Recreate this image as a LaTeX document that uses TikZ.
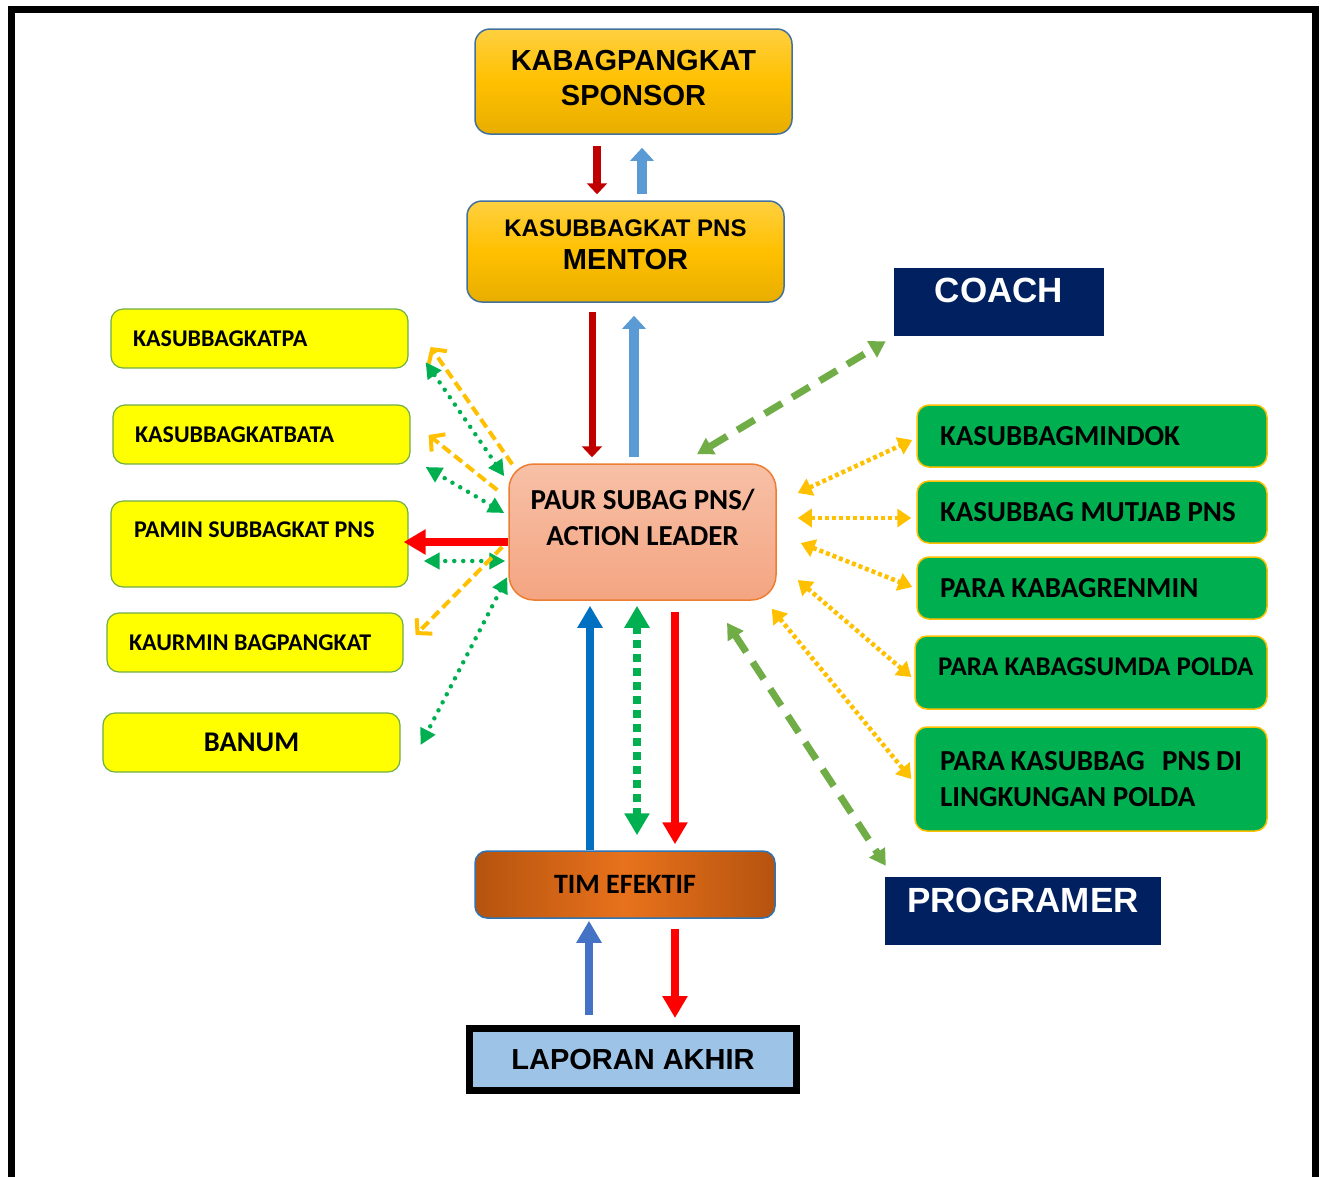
\documentclass[tikz,border=0pt]{standalone}
\usepackage{fontspec}
\setmainfont{Carlito}
\newfontfamily\arialfont{Liberation Sans}
\usetikzlibrary{arrows.meta}

\definecolor{darkred}{HTML}{C00000}
\definecolor{skyblue}{HTML}{5B9BD5}
\definecolor{brightred}{HTML}{FF0000}
\definecolor{midblue}{HTML}{0070C0}
\definecolor{steelblue}{HTML}{4472C4}
\definecolor{pgreen}{HTML}{00B050}
\definecolor{lgreen}{HTML}{70AD47}
\definecolor{gold}{HTML}{FFC000}
\definecolor{navy}{HTML}{002060}
\definecolor{yfill}{HTML}{FFFF00}
\definecolor{lapblue}{HTML}{9DC3E6}
\definecolor{goldtop}{HTML}{FFD040}
\definecolor{goldbot}{HTML}{E8AE00}
\definecolor{goldline}{HTML}{41719C}
\definecolor{paurtop}{HTML}{F7C0A6}
\definecolor{paurbot}{HTML}{F4A582}
\definecolor{paurline}{HTML}{ED7D31}
\definecolor{timmid}{HTML}{E8721C}
\definecolor{timdark}{HTML}{B5530F}
\definecolor{timline}{HTML}{2E75B6}

\newcommand\lowstrut[1]{\rule[-#1]{0pt}{#1}}

\tikzset{
  basebox/.style={draw, inner ysep=2pt, text=black},
  goldbox/.style={basebox, draw=goldline, line width=1.5pt, rounded corners=15pt,
    top color=goldtop, bottom color=goldbot, middle color=gold, align=center, minimum width=317pt},
  paurbox/.style={basebox, draw=paurline, line width=1.5pt, rounded corners=25pt,
    top color=paurtop, bottom color=paurbot, align=center, minimum width=267pt, minimum height=136pt,
    font=\bfseries\fontsize{29}{36}\selectfont},
  yellowbox/.style={basebox, draw=lgreen, fill=yfill, line width=1.2pt, rounded corners=12pt,
    minimum width=297pt, minimum height=59pt, inner xsep=22pt, text width=253pt, align=flush left,
    font=\bfseries\fontsize{24}{29}\selectfont},
  greenbox/.style={basebox, draw=gold, fill=pgreen, line width=1.5pt, rounded corners=12pt,
    minimum width=350pt, minimum height=62pt, inner xsep=23pt, text width=304pt, align=flush left,
    font=\bfseries\fontsize{29}{36}\selectfont},
  navybox/.style={fill=navy, text=white, inner ysep=2pt, font=\arialfont\bfseries\fontsize{35}{40}\selectfont},
  topred/.style={draw=darkred, line width=8pt, -{Triangle[length=11pt,width=20pt]}},
  topblue/.style={draw=skyblue, line width=10pt, -{Triangle[length=13pt,width=23pt]}},
  fatarr/.style={line width=8pt, -{Triangle[length=22pt,width=24pt]}},
  gsq/.style={draw=pgreen, line width=8pt, dash pattern=on 8pt off 6pt, <->, >={Triangle[length=22pt,width=24pt]}},
  gdot/.style={draw=pgreen, line width=4.5pt, line cap=round, dash pattern=on 0pt off 9pt, <->, >={Triangle[length=16pt,width=16pt]}},
  odash/.style={draw=gold, line width=4pt, dash pattern=on 10pt off 5pt, ->, >={Straight Barb[length=10pt,width=22pt]}},
  odot/.style={draw=gold, line width=4.5pt, dash pattern=on 4pt off 3pt, <->, >={Triangle[length=14pt,width=18pt]}},
  gdash/.style={draw=lgreen, line width=7pt, dash pattern=on 20pt off 12pt, <->, >={Triangle[length=16pt,width=18pt]}}
}

\begin{document}
\begin{tikzpicture}[x=1pt, y=-1pt]
\useasboundingbox (0,0) rectangle (1324,1176);
\draw[line width=7pt] (11,1185) -- (11,9) -- (1315,9) -- (1315,1185);

\node (sponsor) [goldbox, minimum height=105pt, font=\arialfont\bfseries\fontsize{29}{35}\selectfont] at (633.5,81.5) {KABAGPANGKAT\\SPONSOR\lowstrut{8pt}};
\node (mentor) [goldbox, minimum height=101pt, font=\arialfont\bfseries\fontsize{29}{33}\selectfont] at (625.5,251.5) {{\fontsize{24}{29}\selectfont KASUBBAGKAT PNS}\\MENTOR\lowstrut{14pt}};
\node (paur) [paurbox] at (642.5,532) {PAUR SUBAG PNS/\\ACTION LEADER\lowstrut{30pt}};

\node (katpa) [yellowbox] at (259.5,338.5) {KASUBBAGKATPA};
\node (katbata) [yellowbox] at (261.5,434.5) {KASUBBAGKATBATA};
\node (pamin) [yellowbox, minimum height=86pt, inner xsep=23pt, text width=251pt] at (259.5,544) {PAMIN~SUBBAGKAT~PNS\lowstrut{28pt}};
\node (kaurmin) [yellowbox, minimum width=296pt, text width=252pt] at (255,642.5) {KAURMIN~BAGPANGKAT};
\node (banum) [yellowbox, align=center, font=\bfseries\fontsize{28.5}{34}\selectfont] at (251.5,742.5) {BANUM};

\node (coach) [navybox, minimum width=210pt, minimum height=68pt] at (999,302) {COACH\lowstrut{24pt}};
\node (mindok) [greenbox] at (1092,436) {KASUBBAGMINDOK};
\node (mutjab) [greenbox] at (1092,512) {KASUBBAG~MUTJAB~PNS};
\node (renmin) [greenbox] at (1092,588) {PARA~KABAGRENMIN};
\node (sumda) [greenbox, minimum width=352pt, minimum height=73pt, text width=306pt, font=\bfseries\fontsize{27}{33}\selectfont] at (1091,672.5) {\mbox{PARA KABAGSUMDA POLDA}\lowstrut{11pt}};
\node (lingkungan) [greenbox, minimum width=352pt, minimum height=104pt, inner xsep=25pt, text width=302pt] at (1091,779) {PARA~KASUBBAG~~~PNS~DI\\LINGKUNGAN~POLDA};
\node (programer) [navybox, minimum width=276pt, minimum height=68pt] at (1023,911) {PROGRAMER\lowstrut{22pt}};

\node (tim) [basebox, draw=timline, line width=1.5pt, rounded corners=12pt, left color=timdark, right color=timdark, middle color=timmid, minimum width=300pt, minimum height=67pt, font=\bfseries\fontsize{28}{34}\selectfont] at (625,884.5) {TIM EFEKTIF};
\node (laporan) [basebox, draw=black, line width=7pt, fill=lapblue, minimum width=327pt, minimum height=62pt, font=\arialfont\bfseries\fontsize{29}{35}\selectfont] at (633,1059.5) {LAPORAN AKHIR};

\draw[topred] ([xshift=-36.5pt,yshift=-11pt]sponsor.south) -- ([xshift=-28.5pt,yshift=6pt]mentor.north);
\draw[topblue] ([xshift=16.5pt,yshift=6pt]mentor.north) -- ([xshift=8.5pt,yshift=-13pt]sponsor.south);
\draw[topred, line width=7pt] ([xshift=-33.5pt,yshift=-9pt]mentor.south) -- ([xshift=-50.5pt,yshift=6pt]paur.north);
\draw[topblue] ([xshift=-8.5pt,yshift=6pt]paur.north) -- ([xshift=8.5pt,yshift=-13pt]mentor.south);

\draw[odash] ([xshift=4pt,yshift=-1pt]paur.north west) -- ([xshift=22pt,yshift=-8.5pt]katpa.east);
\draw[gdot] ([xshift=-4pt,yshift=-13pt]paur.north west) -- ([xshift=17pt,yshift=-23.5pt]katpa.east);
\draw[odash] ([xshift=-11pt,yshift=42pt]paur.west) -- ([xshift=18pt,yshift=-0.5pt]katbata.east);
\draw[gdot] ([xshift=-4pt,yshift=19pt]paur.west) -- ([xshift=15pt,yshift=-32.5pt]katbata.east);
\draw[fatarr, draw=brightred] ([yshift=-10pt]paur.west) -- ([xshift=-5pt,yshift=2pt]pamin.east);
\draw[gdot] ([xshift=-3pt,yshift=-29pt]paur.west) -- ([xshift=15pt,yshift=-17pt]pamin.east);
\draw[odash] ([xshift=-6pt,yshift=-15pt]paur.west) -- ([xshift=12pt,yshift=7.5pt]kaurmin.east);
\draw[gdot] ([xshift=-1pt,yshift=-45pt]paur.west) -- ([xshift=20pt,yshift=-2.5pt]banum.east);

\draw[gdash] ([xshift=54.5pt,yshift=9pt]paur.north) -- ([xshift=-8pt,yshift=-5pt]coach.south west);
\draw[odot] ([xshift=21pt,yshift=39pt]paur.east) -- ([xshift=-4pt,yshift=-4pt]mindok.west);
\draw[odot] ([xshift=21pt,yshift=14pt]paur.east) -- ([xshift=-5pt,yshift=-6pt]mutjab.west);
\draw[odot] ([xshift=24pt,yshift=-11pt]paur.east) -- ([xshift=-4pt,yshift=1pt]renmin.west);
\draw[odot] ([xshift=21pt,yshift=-48pt]paur.east) -- ([xshift=-3pt,yshift=-4.5pt]sumda.west);
\draw[odot] ([xshift=-5pt,yshift=-8pt]paur.south east) -- ([xshift=-3pt]lingkungan.west);
\draw[gdash] ([xshift=84.5pt,yshift=-22pt]paur.south) -- ([xshift=1pt,yshift=11pt]programer.north west);

\draw[fatarr, draw=midblue] ([xshift=-35pt]tim.north) -- ([xshift=-52.5pt,yshift=-5pt]paur.south);
\draw[gsq] ([xshift=-5.5pt,yshift=-5pt]paur.south) -- ([xshift=12pt,yshift=15pt]tim.north);
\draw[fatarr, draw=brightred] ([xshift=32.5pt,yshift=-11pt]paur.south) -- ([xshift=50pt,yshift=6pt]tim.north);
\draw[fatarr, draw=steelblue] ([xshift=-44pt,yshift=10pt]laporan.north) -- ([xshift=-36pt,yshift=-2pt]tim.south);
\draw[fatarr, draw=brightred] ([xshift=50pt,yshift=-10pt]tim.south) -- ([xshift=42pt,yshift=7pt]laporan.north);
\end{tikzpicture}
\end{document}
